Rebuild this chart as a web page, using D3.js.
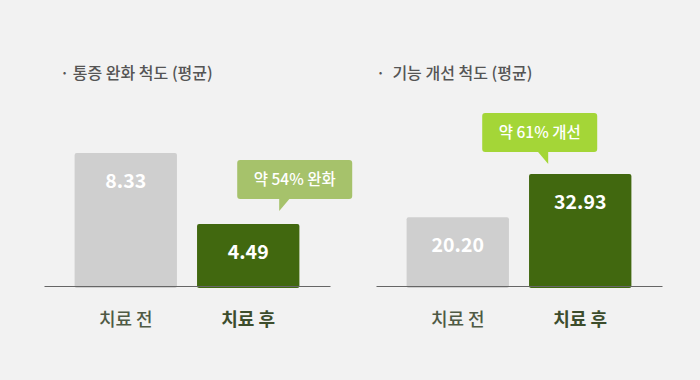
<!DOCTYPE html>
<html>
<head>
<meta charset="utf-8">
<script src="https://cdn.jsdelivr.net/npm/d3@7"></script>
<style>
  html, body { margin: 0; padding: 0; background: #f2f2f2; }
  svg { display: block; font-family: "Noto Sans CJK KR", "Noto Sans", sans-serif; }
</style>
</head>
<body>
<svg id="chart"></svg>
<script>
// data
const panelTitles = ['· 통증 완화 척도 (평균)', '·  기능 개선 척도 (평균)']
const categories = ['치료 전', '치료 후']
const painValues = [8.33, 4.49]
const functionValues = [20.20, 32.93]
const calloutLabels = ['약 54% 완화', '약 61% 개선']

const width = 700
const height = 380

// layout per panel (x offset, y domain, callout placement relative to 2nd bar)
const panels = [
    { title: panelTitles[0], values: painValues, callout: calloutLabels[0],
      x0: 44, titleDx: 16, domain: [1.14, 11.2], calloutColor: '#a6c26b',
      boxDx: -11, gap: 25, pointer: 'left', pointerDx: 42 },
    { title: panelTitles[1], values: functionValues, callout: calloutLabels[1],
      x0: 376, titleDx: 0, domain: [0, 54.7], calloutColor: '#a4d637',
      boxDx: -98, gap: 22, pointer: 'right', pointerDx: 66 }
]

const panelWidth = 286
const baseY = 286
const topY = 100
const boxW = 115
const boxH = 39

const barColors = ['#cfcfcf', '#41680f']

let svg = d3.select('#chart')
    .attr('width', width)
    .attr('height', height)

svg.append('rect')
    .attr('width', width)
    .attr('height', height)
    .attr('fill', '#f2f2f2')

panels.forEach(function(p) {
    let g = svg.append('g')

    let xScale = d3.scaleBand()
        .domain(categories)
        .range([p.x0, p.x0 + panelWidth])
        .paddingInner(0.164)
        .paddingOuter(0.25)

    let yScale = d3.scaleLinear()
        .domain(p.domain)
        .range([baseY, topY])

    // title
    g.append('text')
        .attr('x', p.x0 + p.titleDx)
        .attr('y', 79)
        .attr('font-size', 16)
        .attr('font-weight', 500)
        .attr('fill', '#555')
        .style('white-space', 'pre')
        .text(p.title)

    let rows = categories.map((c, i) => ({ cat: c, value: p.values[i], i: i }))

    // bars
    g.selectAll('rect.bar')
        .data(rows)
        .join('rect')
        .attr('class', 'bar')
        .attr('x', d => xScale(d.cat))
        .attr('y', d => yScale(d.value))
        .attr('width', xScale.bandwidth())
        .attr('height', d => baseY - yScale(d.value) + 2)
        .attr('rx', 2)
        .attr('fill', d => barColors[d.i])

    // value labels
    g.selectAll('text.val')
        .data(rows)
        .join('text')
        .attr('class', 'val')
        .attr('x', d => xScale(d.cat) + xScale.bandwidth() / 2)
        .attr('y', d => yScale(d.value) + 28)
        .attr('dy', '0.36em')
        .attr('text-anchor', 'middle')
        .attr('font-size', 19.5)
        .attr('font-weight', 700)
        .attr('fill', '#fff')
        .text(d => d.value.toFixed(2))

    // baseline
    let axis = d3.axisBottom(xScale).tickSize(0).tickPadding(0).tickFormat('')
    g.append('g')
        .attr('transform', `translate(0,${baseY})`)
        .call(axis)
        .call(a => a.select('.domain').attr('stroke', '#666').attr('stroke-width', 1.2))

    // category labels
    g.selectAll('text.cat')
        .data(rows)
        .join('text')
        .attr('class', 'cat')
        .attr('x', d => xScale(d.cat) + xScale.bandwidth() / 2)
        .attr('y', 326)
        .attr('text-anchor', 'middle')
        .attr('font-size', 18)
        .attr('font-weight', d => d.i === 1 ? 700 : 500)
        .attr('fill', d => d.i === 1 ? '#3d4d2c' : '#4f5a45')
        .style('white-space', 'pre')
        .text(d => d.cat)

    // callout over the second bar
    let last = rows[1]
    let cx = xScale(last.cat) + xScale.bandwidth() / 2
    let boxBottom = yScale(last.value) - p.gap
    let bx = cx + p.boxDx
    let by = boxBottom - boxH

    let call = g.append('g')
    call.append('rect')
        .attr('x', bx)
        .attr('y', by)
        .attr('width', boxW)
        .attr('height', boxH)
        .attr('rx', 3)
        .attr('fill', p.calloutColor)

    let px = bx + p.pointerDx
    let pts = p.pointer === 'left'
        ? [[px, boxBottom - 1], [px + 11, boxBottom - 1], [px, boxBottom + 12]]
        : [[px - 11, boxBottom - 1], [px, boxBottom - 1], [px, boxBottom + 12]]
    call.append('path')
        .attr('d', d3.line()(pts) + 'Z')
        .attr('fill', p.calloutColor)

    call.append('text')
        .attr('x', bx + boxW / 2)
        .attr('y', by + boxH / 2)
        .attr('dy', '0.36em')
        .attr('text-anchor', 'middle')
        .attr('font-size', 15.5)
        .attr('font-weight', 500)
        .attr('fill', '#fff')
        .style('white-space', 'pre')
        .text(p.callout)
})
</script>
</body>
</html>
